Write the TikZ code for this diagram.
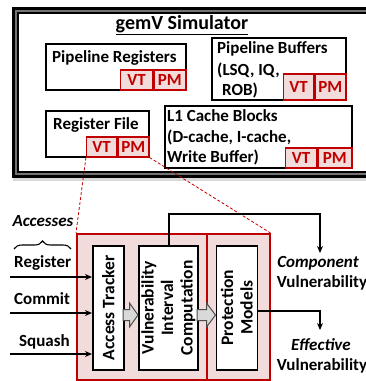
\documentclass[tikz,border=0pt]{standalone}
\usepackage{fontspec}
\setmainfont{Carlito}
\usetikzlibrary{shadows,decorations.pathreplacing,arrows.meta}
\definecolor{tagred}{HTML}{C00000}
\definecolor{tagpink}{HTML}{F2DCDB}
\definecolor{arrowgray}{HTML}{D9D9D9}
\tikzset{
  box/.style={draw=black, line width=1.5pt, fill=white, inner sep=0pt, anchor=north west,
    drop shadow={opacity=0.25, shadow xshift=1.2pt, shadow yshift=-1.2pt}},
  tag/.style={draw=tagred, line width=1.3pt, fill=tagpink, text=tagred, inner sep=0pt,
    minimum height=20pt, anchor=south east},
  lbl/.style={inner sep=0pt, anchor=base west},
  unit/.style={draw=black, line width=1.6pt, fill=white, inner sep=0pt, anchor=north west,
    minimum height=124pt},
  vtext/.style={rotate=90, align=center, inner sep=0pt, font=\bfseries\fontsize{17.5}{19.5}\selectfont},
  feed/.style={line width=1.5pt, -{Stealth[length=7pt,width=6pt]}},
  link/.style={draw=tagred, line width=0.8pt, dash pattern=on 3pt off 2pt},
  blockarrow/.style={draw=black!70, line width=1pt, fill=arrowgray},
  region/.style={draw=tagred, line width=1.5pt, fill=tagpink, inner sep=0pt, anchor=north west,
    minimum height=146pt},
}
\begin{document}
\begin{tikzpicture}[x=1pt,y=-1pt, font=\bfseries\fontsize{17}{20}\selectfont]
\useasboundingbox (0,0) rectangle (366,381);
\clip (0,0) rectangle (366,381);

% simulator frame: heavy black, grey, thin black
\fill[black!30, opacity=0.5] (13,10) rectangle (380,181);
\draw[line width=6.5pt] (15.3,10.3) rectangle (380,174.5);
\draw[black!55, line width=1.6pt] (15.8,10.8) rectangle (380,174);
\fill[white] (18.6,13.6) rectangle (380,171.2);
\node[anchor=base, inner sep=0pt, font=\bfseries\fontsize{20}{24}\selectfont] (title) at (182,29) {\underline{gemV Simulator}};

% component boxes with VT/PM tags
\node[box, minimum width=140pt, minimum height=46pt] (preg) at (45,43) {};
\node[lbl] at (52,62) {Pipeline Registers};
\node[tag, minimum width=32pt] (pregpm) at (preg.south east) {PM};
\node[tag, minimum width=32pt] (pregvt) at (pregpm.south west) {VT};

\node[box, minimum width=134pt, minimum height=62pt] (pbuf) at (211,37) {};
\node[lbl] at (217,53) {Pipeline Buffers};
\node[lbl] at (217,75) {(LSQ, IQ,};
\node[lbl] at (222,95) {ROB)};
\node[tag, minimum width=31pt, minimum height=26pt] (pbufpm) at (pbuf.south east) {PM};
\node[tag, minimum width=30pt, minimum height=26pt] (pbufvt) at (pbufpm.south west) {VT};

\node[box, minimum width=103pt, minimum height=46pt] (rf) at (45,110) {};
\node[lbl] at (53,129) {Register File};
\node[tag, minimum width=31pt] (rfpm) at (rf.south east) {PM};
\node[tag, minimum width=30pt] (rfvt) at (rfpm.south west) {VT};

\node[box, minimum width=187pt, minimum height=62pt] (l1) at (164,105) {};
\node[lbl] at (167,121) {L1 Cache Blocks};
\node[lbl] at (167,142) {(D-cache, I-cache,};
\node[lbl] at (167,162) {Write Buffer)};
\node[tag, minimum width=34pt] (l1pm) at (l1.south east) {PM};
\node[tag, minimum width=31pt] (l1vt) at (l1pm.south west) {VT};

% expanded VT / PM
\node[region, minimum width=130pt,
  drop shadow={opacity=0.25, shadow xshift=1.5pt, shadow yshift=-1.5pt}] (vt) at (76,233) {};
\node[region, minimum width=63pt] (pm) at (206,233) {};

\draw[link] (rfvt.south west) -- (vt.north west);
\draw[link] (rfpm.south east) -- (pm.north east);

\node[unit, minimum width=31pt] (at) at (92,245) {};
\node[vtext] at (at.center) {Access Tracker};
\node[unit, minimum width=59pt] (vic) at (138,245) {};
\node[vtext] at (vic.center) {Vulnerability\\Interval\\Computation};
\node[unit, minimum width=41pt] (prot) at (215.5,245) {};
\node[vtext] at (prot.center) {Protection\\Models};

% block arrows between stages
\draw[blockarrow] (123,309.5) -- (129.5,309.5) -- (129.5,303) -- (138,315) -- (129.5,327) -- (129.5,320.5) -- (123,320.5) -- cycle;
\draw[blockarrow] (197,309.5) -- (206.5,309.5) -- (206.5,303) -- (215.5,315) -- (206.5,327) -- (206.5,320.5) -- (197,320.5) -- cycle;

% inputs
\node[font=\bfseries\itshape\fontsize{17}{20}\selectfont, anchor=base, inner sep=0pt] (acc) at (43,226) {Accesses};
\draw[line width=1.1pt, decorate, decoration={brace, amplitude=8pt}] (14,249) -- (71,249);
\node[lbl] (reg) at (14,267) {Register};
\node[lbl] (com) at (14,304) {Commit};
\node[lbl] (sq) at (19,346) {Squash};
\coordinate (inreg) at (10,277);
\coordinate (incom) at (10,313);
\coordinate (insq) at (10,354);
\draw[feed] (inreg) -- (inreg -| at.west);
\draw[feed] (incom) -- (incom -| at.west);
\draw[feed] (insq) -- (insq -| at.west);

% outputs
\node[anchor=base, inner sep=0pt] (cv) at (318,267) {\itshape Component};
\node[anchor=base, inner sep=0pt] (cv2) at (322,287) {Vulnerability};
\node[anchor=base, inner sep=0pt] (ev) at (321,350) {\itshape Effective};
\node[anchor=base, inner sep=0pt] (ev2) at (322,370) {Vulnerability};
\coordinate (tap) at (169,245);
\coordinate (pmout) at (256.5,311);
\draw[feed] (tap) -- (169,214) -- (320,214) -- (320,253);
\draw[feed] (pmout) -- (320,311) -- (320,330);
\end{tikzpicture}
\end{document}
